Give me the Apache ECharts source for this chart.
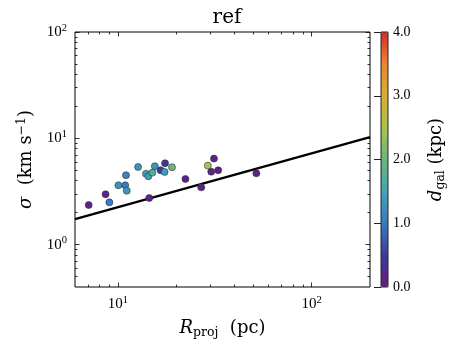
<!DOCTYPE html>
<html>
<head>
<meta charset="utf-8">
<script src="https://cdn.jsdelivr.net/npm/echarts@6/dist/echarts.min.js"></script>
<style>
  html, body { margin: 0; padding: 0; background: #fff; }
  #chart { width: 458px; height: 353px; }
</style>
</head>
<body>
<div id="chart"></div>
<script>
// projected radius (pc), velocity dispersion (km/s), galactocentric distance (kpc)
const rProj = [7.06, 8.63, 9.03, 10.05, 10.9, 11.0, 11.1, 12.7, 13.95, 14.35, 14.5, 15.05,
  15.5, 16.6, 17.4, 17.5, 19.0, 22.3, 26.9, 29.1, 30.3, 31.3, 32.9, 51.8];
const sigma = [2.36, 2.98, 2.50, 3.62, 3.62, 4.50, 3.22, 5.38, 4.65, 4.40, 2.75, 4.76,
  5.47, 5.01, 4.83, 5.83, 5.35, 4.15, 3.46, 5.54, 4.86, 6.45, 5.01, 4.69];
const dGal = [0.1, 0.15, 1.0, 1.3, 1.0, 1.1, 1.3, 1.3, 1.4, 1.4, 0.1, 1.7,
  1.3, 0.5, 1.4, 0.4, 2.0, 0.1, 0.1, 2.5, 0.1, 0.1, 0.1, 0.1];

// fitted relation
const fitR = [6, 200];
const fitSigma = [1.74, 10.25];

// ticks
const xMajor = [10, 100];
const xMinor = [7, 8, 9, 20, 30, 40, 50, 60, 70, 80, 90];
const yMajor = [1, 10, 100];
const yMinor = [0.5, 0.6, 0.7, 0.8, 0.9, 2, 3, 4, 5, 6, 7, 8, 9, 20, 30, 40, 50, 60, 70, 80, 90];
const cbarTicks = [0, 1, 2, 3, 4];

const cmap = ['#661a84', '#3d3a9e', '#3b79c0', '#3fa7b4', '#6bb57a', '#abc150', '#d8ae32', '#ec8531', '#d62b26'];

const NUM = 'Liberation Serif';
const TXT = 'DejaVu Serif';
var chart = echarts.init(document.getElementById('chart'));

const pow10 = (v) => '{b|10}{sup|' + Math.round(Math.log10(v)) + '}';
const tickRich = {
  b: { fontFamily: NUM, fontSize: 15, color: '#000' },
  sup: { fontFamily: NUM, fontSize: 10.5, color: '#000', padding: [0, 0, 8, 0] },
};

const logAxis = (pos, min, max, ticks, len, labels) => ({
  type: 'log',
  gridIndex: 0,
  position: pos,
  min,
  max,
  axisLine: { show: false },
  splitLine: { show: false },
  axisTick: {
    show: true,
    inside: true,
    length: len,
    customValues: ticks,
    lineStyle: { color: '#000', width: 0.8 },
  },
  axisLabel: labels
    ? { show: true, customValues: ticks, formatter: pow10, rich: tickRich, margin: 8 }
    : { show: false },
});

const nameRich = {
  it: { fontFamily: TXT, fontStyle: 'italic', fontSize: 18, color: '#000' },
  n: { fontFamily: TXT, fontSize: 18, color: '#000' },
  sub: { fontFamily: TXT, fontSize: 12.5, color: '#000', padding: [8, 0, 0, 0] },
  sup: { fontFamily: TXT, fontSize: 12.5, color: '#000', padding: [0, 0, 10, 0] },
};

const scatterData = rProj.map((r, i) => [r, sigma[i], dGal[i]]);
const fitData = fitR.map((r, i) => [r, fitSigma[i]]);

const xMain = logAxis('bottom', 6, 200, xMajor, 4.5, true);
xMain.name = '{it|R}{sub|proj}{n|  (pc)}';
xMain.nameLocation = 'middle';
xMain.nameGap = 31;
xMain.nameTextStyle = { rich: nameRich };

const yMain = logAxis('left', 0.4, 100, yMajor, 4.5, true);
yMain.name = '{it|σ}{n|  (km s}{sup|−1}{n|)}';
yMain.nameLocation = 'middle';
yMain.nameGap = 37;
yMain.nameTextStyle = { rich: nameRich };

chart.setOption({
  animation: false,
  title: {
    text: 'ref',
    left: 222,
    textAlign: 'center',
    top: 3,
    textStyle: { fontFamily: TXT, fontSize: 20, fontWeight: 'normal', color: '#000' },
  },
  grid: [
    { left: 75, top: 32, width: 295, height: 255, show: true, borderColor: '#000', borderWidth: 1, backgroundColor: 'transparent' },
    { left: 381, top: 32, width: 7, height: 255, show: true, borderColor: '#222', borderWidth: 1, backgroundColor: 'transparent', z: 10 },
  ],
  xAxis: [
    xMain,
    logAxis('bottom', 6, 200, xMinor, 2.5, false),
    logAxis('top', 6, 200, xMajor, 4.5, false),
    logAxis('top', 6, 200, xMinor, 2.5, false),
    { type: 'value', gridIndex: 1, min: 0, max: 1, show: false },
  ],
  yAxis: [
    yMain,
    logAxis('left', 0.4, 100, yMinor, 2.5, false),
    logAxis('right', 0.4, 100, yMajor, 4.5, false),
    logAxis('right', 0.4, 100, yMinor, 2.5, false),
    {
      type: 'value',
      gridIndex: 1,
      position: 'right',
      min: 0,
      max: 4,
      z: 10,
      axisLine: { show: false },
      splitLine: { show: false },
      axisTick: { show: true, inside: true, length: 7, customValues: cbarTicks, lineStyle: { color: '#222', width: 1 } },
      axisLabel: {
        show: true,
        customValues: cbarTicks,
        margin: 5,
        formatter: (v) => v.toFixed(1),
        fontFamily: NUM,
        fontSize: 14,
        color: '#000',
      },
      name: '{it|d}{sub|gal}{n| (kpc)}',
      nameLocation: 'middle',
      nameRotate: 90,
      nameGap: 38,
      nameTextStyle: { rich: nameRich },
    },
  ],
  visualMap: {
    type: 'continuous',
    min: 0,
    max: 4,
    dimension: 2,
    seriesIndex: 1,
    calculable: false,
    left: 381,
    top: 32,
    padding: 0,
    itemWidth: 7,
    itemHeight: 255,
    z: 1,
    inRange: { color: cmap },
  },
  series: [
    {
      type: 'line',
      xAxisIndex: 0,
      yAxisIndex: 0,
      data: fitData,
      showSymbol: false,
      lineStyle: { color: '#000', width: 2.3 },
      z: 2,
    },
    {
      type: 'scatter',
      xAxisIndex: 0,
      yAxisIndex: 0,
      data: scatterData,
      symbolSize: 7,
      itemStyle: { borderColor: '#333', borderWidth: 0.6, opacity: 1 },
      z: 3,
    },
  ],
});
</script>
</body>
</html>
